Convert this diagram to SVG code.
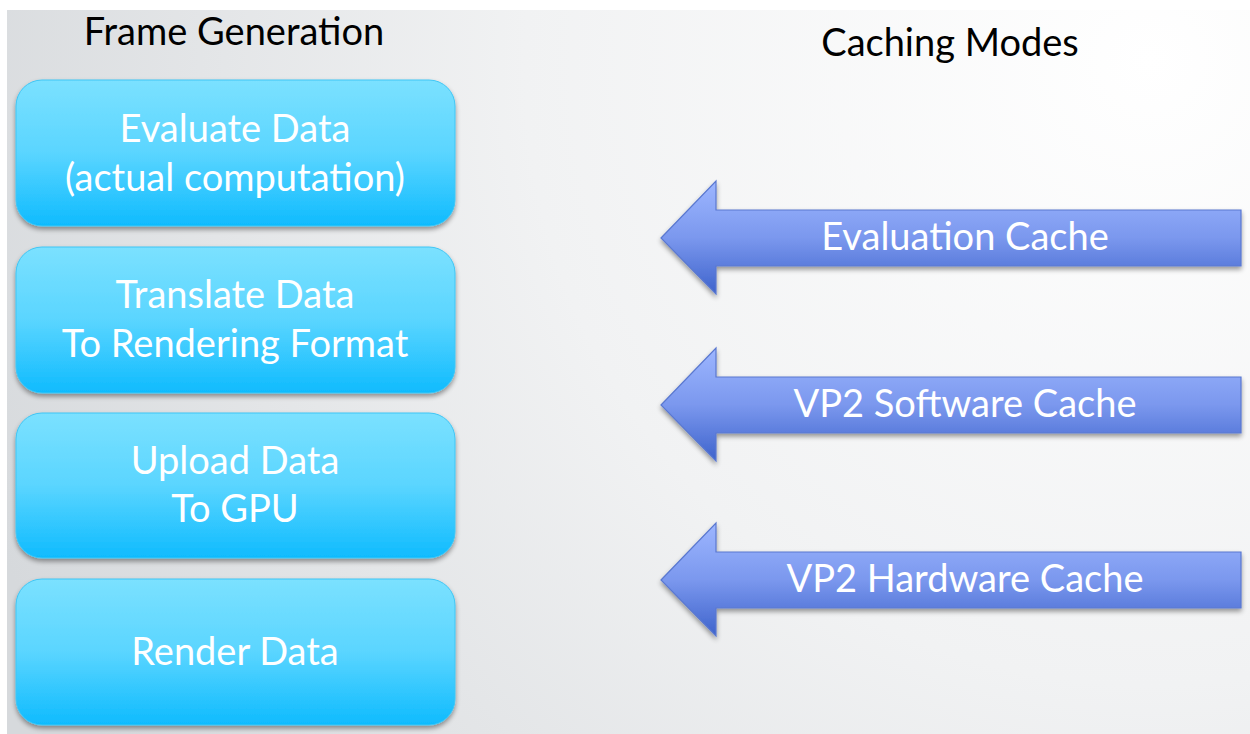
<svg xmlns="http://www.w3.org/2000/svg" width="1250" height="734" viewBox="0 0 1250 734">
<defs>
<radialGradient id="bg" cx="1150" cy="60" r="1250" gradientUnits="userSpaceOnUse">
<stop offset="0" stop-color="#ffffff"/>
<stop offset="0.5" stop-color="#f1f2f3"/>
<stop offset="1" stop-color="#d6d9dc"/>
</radialGradient>
<linearGradient id="box" x1="0" y1="0" x2="0" y2="1">
<stop offset="0" stop-color="#7be1ff"/>
<stop offset="0.5" stop-color="#5ad5ff"/>
<stop offset="1" stop-color="#0fbbfe"/>
</linearGradient>
<linearGradient id="arr" x1="0" y1="0" x2="0" y2="1">
<stop offset="0" stop-color="#9db6ff"/>
<stop offset="0.5" stop-color="#7b98ee"/>
<stop offset="1" stop-color="#3e63cc"/>
</linearGradient>
<filter id="sh" x="-10%" y="-10%" width="120%" height="130%">
<feGaussianBlur in="SourceAlpha" stdDeviation="2.5"/>
<feOffset dx="0" dy="3" result="b"/>
<feComponentTransfer><feFuncA type="linear" slope="0.4"/></feComponentTransfer>
<feMerge><feMergeNode/><feMergeNode in="SourceGraphic"/></feMerge>
</filter>
</defs>
<style>
.box{fill:url(#box);stroke:#3fc6f5;stroke-width:1;filter:url(#sh)}
.arrow{fill:url(#arr);stroke:#5a78d0;stroke-width:1.2;filter:url(#sh)}
.wt{font-family:Lato,"Open Sans",sans-serif;font-size:38px;fill:#ffffff;text-anchor:middle}
.hd{font-family:Lato,"Open Sans",sans-serif;font-size:38px;fill:#000000;text-anchor:middle}
</style>
<rect x="0" y="0" width="1250" height="734" fill="#ffffff"/>
<rect x="7" y="10" width="1243" height="724" fill="url(#bg)"/>
<g id="title-frame"><text class="hd" x="234" y="45">Frame Generation</text></g>
<g id="title-caching"><text class="hd" x="950" y="56">Caching Modes</text></g>
<g id="node-evaluate">
<rect class="box" x="16" y="80" width="439" height="146" rx="26"/>
<text class="wt" x="235" y="142">Evaluate Data</text>
<text class="wt" x="235" y="191">(actual computation)</text>
</g>
<g id="node-translate">
<rect class="box" x="16" y="247" width="439" height="146" rx="26"/>
<text class="wt" x="235" y="308">Translate Data</text>
<text class="wt" x="235" y="357">To Rendering Format</text>
</g>
<g id="node-upload">
<rect class="box" x="16" y="413" width="439" height="145" rx="26"/>
<text class="wt" x="235" y="474">Upload Data</text>
<text class="wt" x="235" y="522">To GPU</text>
</g>
<g id="node-render">
<rect class="box" x="16" y="579" width="439" height="146" rx="26"/>
<text class="wt" x="235" y="665">Render Data</text>
</g>
<g id="connectors">
<g id="arrow-evaluation">
<path class="arrow" d="M661,238 L716,181 L716,210 L1241,210 L1241,266 L716,266 L716,294 Z"/>
<text class="wt" x="965" y="250">Evaluation Cache</text>
</g>
<g id="arrow-vp2-software">
<path class="arrow" d="M661,405 L716,348 L716,377 L1241,377 L1241,433 L716,433 L716,461 Z"/>
<text class="wt" x="965" y="417">VP2 Software Cache</text>
</g>
<g id="arrow-vp2-hardware">
<path class="arrow" d="M661,580 L716,523 L716,552 L1241,552 L1241,608 L716,608 L716,636 Z"/>
<text class="wt" x="965" y="592">VP2 Hardware Cache</text>
</g>
</g>
</svg>
